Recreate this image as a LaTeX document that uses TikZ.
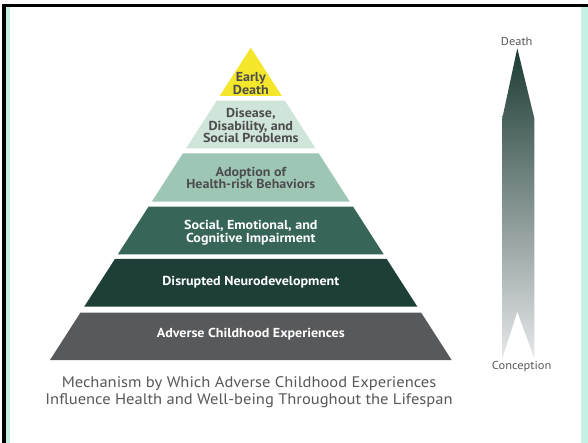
\documentclass[tikz,border=0pt]{standalone}
\usepackage{fontspec}
\setmainfont{PT Sans}[FakeStretch=1.08]
\definecolor{edyellow}{RGB}{244,230,42}
\definecolor{dsmint}{RGB}{207,229,218}
\definecolor{admint}{RGB}{157,198,181}
\definecolor{segreen}{RGB}{55,102,88}
\definecolor{dngreen}{RGB}{30,63,55}
\definecolor{acgray}{RGB}{88,89,91}
\definecolor{txtgray}{RGB}{77,77,79}
\definecolor{capgray}{RGB}{88,88,90}
\definecolor{bordermint}{RGB}{197,240,227}
\definecolor{arrowtop}{RGB}{28,59,51}
\definecolor{arrowmid}{RGB}{128,132,130}
\definecolor{arrowbot}{RGB}{230,231,232}
\begin{document}
\begin{tikzpicture}
  \tikzset{
    tierdark/.style={
      text=txtgray,
      align=center,
      font=\bfseries\fontsize{13}{12.7}\selectfont
    },
    tierlight/.style={
      tierdark,
      text=white
    },
    lifelabel/.style={
      text=capgray,
      font=\fontsize{11.5}{13}\selectfont
    }
  }

  \useasboundingbox (0pt,0pt) rectangle (588pt,-443pt);
  \fill[white] (0pt,0pt) rectangle (588pt,-443pt);

  % frame
  \fill[black] (2pt,-4.5pt) rectangle (588pt,-7.5pt);
  \fill[black] (1.5pt,-4.5pt) rectangle (6pt,-443pt);
  \fill[bordermint] (6pt,-7.5pt) rectangle (9.5pt,-443pt);
  \fill[bordermint] (581pt,-7.5pt) rectangle (588pt,-443pt);

  % pyramid
  \fill[edyellow] (250.8pt,-47.7pt) -- (281.9pt,-96pt) -- (219.7pt,-96pt) -- cycle;
  \fill[dsmint] (216.7pt,-100.7pt) -- (284.9pt,-100.7pt) -- (315.5pt,-148.3pt) -- (186.1pt,-148.3pt) -- cycle;
  \fill[admint] (182.9pt,-153.3pt) -- (318.7pt,-153.3pt) -- (349.8pt,-201.7pt) -- (151.8pt,-201.7pt) -- cycle;
  \fill[segreen] (148.5pt,-206.7pt) -- (353.1pt,-206.7pt) -- (383.7pt,-254.3pt) -- (117.9pt,-254.3pt) -- cycle;
  \fill[dngreen] (114.9pt,-259pt) -- (386.7pt,-259pt) -- (417.4pt,-306.7pt) -- (84.2pt,-306.7pt) -- cycle;
  \fill[acgray] (80.4pt,-312.7pt) -- (421.2pt,-312.7pt) -- (451.6pt,-360pt) -- (50pt,-360pt) -- cycle;

  \node[tierdark] (ED) at (250.8pt, -83.3pt) {Early\\Death};
  \node[tierdark] (DS) at (250.8pt, -125.5pt) {Disease,\\Disability, and\\Social Problems};
  \node[tierdark] (AD) at (250.8pt, -178pt) {Adoption of\\Health-risk Behaviors};
  \node[tierlight] (SE) at (250.8pt, -232.5pt) {Social, Emotional, and\\Cognitive Impairment};
  \node[tierlight] (DN) at (250.8pt, -281.7pt) {Disrupted Neurodevelopment};
  \node[tierlight] (AC) at (250.8pt, -334.3pt) {Adverse Childhood Experiences};

  \node[text=capgray, align=center, font=\fontsize{15.3}{17.3}\selectfont] (caption)
    at (249pt, -392.5pt) {Mechanism by Which Adverse Childhood Experiences\\Influence Health and Well-being Throughout the Lifespan};

  % lifespan arrow
  \shade[top color=arrowtop, middle color=arrowmid, bottom color=arrowbot]
    (517.3pt,-48.3pt) -- (534.3pt,-118.3pt) -- (534.3pt,-358.3pt) -- (517.3pt,-311.7pt)
    -- (502.3pt,-358.3pt) -- (502.3pt,-118.3pt) -- cycle;
  \node[lifelabel] (death) at (516.7pt, -41.7pt) {Death};
  \node[lifelabel] (conception) at (521.7pt, -366.7pt) {Conception};
\end{tikzpicture}
\end{document}
